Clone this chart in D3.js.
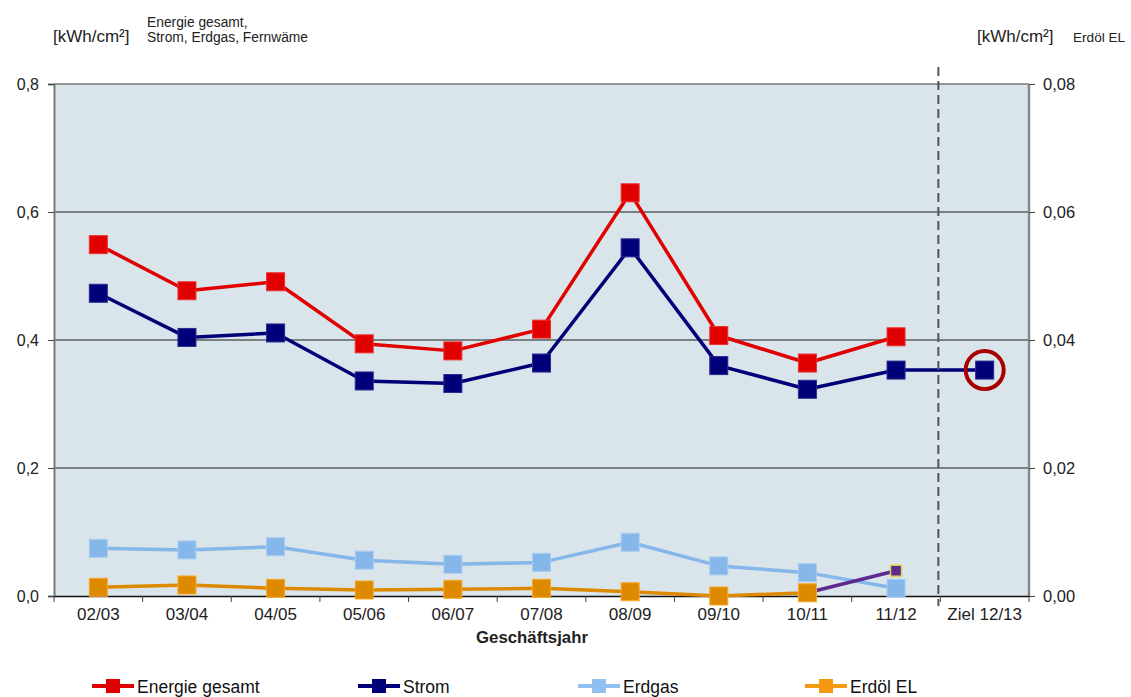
<!DOCTYPE html>
<html><head><meta charset="utf-8">
<script src="https://cdn.jsdelivr.net/npm/d3@7"></script>
<style>
html,body{margin:0;padding:0;background:#fff;}
svg{display:block;font-family:"Liberation Sans",Arial,sans-serif;}
</style></head>
<body><svg id="c" width="1131" height="697"></svg>
<script>
const categories = ["02/03","03/04","04/05","05/06","06/07","07/08","08/09","09/10","10/11","11/12","Ziel 12/13"];
const energieGesamt = [0.549,0.477,0.491,0.394,0.383,0.417,0.630,0.407,0.364,0.405,null];
const strom = [0.473,0.404,0.411,0.336,0.332,0.364,0.544,0.360,0.323,0.353,0.353];
const erdgas = [0.0745,0.072,0.077,0.056,0.0495,0.0525,0.084,0.047,0.0365,0.012,null];
const erdoelEL = [0.00136,0.00172,0.0012,0.00094,0.00105,0.0012,0.00067,0.0,0.0005,null,null];
const fernwaerme = [null,null,null,null,null,null,null,null,0.005,0.0395,null];
const leftTicks = [0,0.2,0.4,0.6,0.8];
const rightTicks = [0,0.02,0.04,0.06,0.08];

const svg = d3.select("#c");
const L = 54, R = 1029, T = 84, B = 596;
const x = d3.scaleBand().domain(categories).range([L,R]).padding(0);
const yL = d3.scaleLinear().domain([0,0.8]).range([B,T]);
const yR = d3.scaleLinear().domain([0,0.08]).range([B,T]);
const fmtL = v => d3.format(".1f")(v).replace(".",",");
const fmtR = v => d3.format(".2f")(v).replace(".",",");

// plot background
svg.append("rect").attr("x",L).attr("y",T).attr("width",R-L).attr("height",B-T).attr("fill","#dae4eb");
// gridlines
svg.append("g").selectAll("line").data(leftTicks.filter(d=>d>0 && d<0.8)).join("line")
  .attr("x1",L).attr("x2",R).attr("y1",d=>yL(d)).attr("y2",d=>yL(d))
  .attr("stroke","#1a1a1a").attr("stroke-width",1);
svg.append("line").attr("x1",L).attr("x2",R).attr("y1",T).attr("y2",T).attr("stroke","#777").attr("stroke-width",1.5);
svg.append("line").attr("x1",R).attr("x2",R).attr("y1",T).attr("y2",B).attr("stroke","#888").attr("stroke-width",2.5);

// left axis
const gL = svg.append("g").attr("transform",`translate(${L},0)`)
  .call(d3.axisLeft(yL).tickValues(leftTicks).tickFormat(fmtL).tickSizeOuter(0).tickSize(6).tickPadding(9));
gL.select(".domain").attr("stroke","#777").attr("stroke-width",2);
gL.selectAll(".tick line").attr("stroke","#444");
gL.selectAll("text").attr("font-size",16).attr("fill","#222").attr("font-family","Liberation Sans, Arial");
// right axis
const gR = svg.append("g").attr("transform",`translate(${R},0)`)
  .call(d3.axisRight(yR).tickValues(rightTicks).tickFormat(fmtR).tickSizeOuter(0).tickSize(6).tickPadding(8));
gR.select(".domain").remove();
gR.selectAll(".tick line").attr("stroke","#444");
gR.selectAll("text").attr("font-size",16.5).attr("fill","#222").attr("font-family","Liberation Sans, Arial");
// bottom axis
const gB = svg.append("g").attr("transform",`translate(0,${B})`)
  .call(d3.axisBottom(x).tickSize(0).tickPadding(12));
gB.select(".domain").attr("stroke","#111").attr("stroke-width",1.5);
gB.selectAll("text").attr("font-size",17).attr("fill","#222").attr("font-family","Liberation Sans, Arial");
const bounds = categories.map(c=>x(c)).concat([x(categories[categories.length-1])+x.bandwidth()]);
svg.append("g").selectAll("line").data(bounds).join("line")
  .attr("x1",d=>d).attr("x2",d=>d).attr("y1",B).attr("y2",B+6).attr("stroke","#444").attr("stroke-width",1);
svg.append("text").attr("x",532).attr("y",643).attr("text-anchor","middle").attr("font-size",16.8)
  .attr("font-weight","bold").attr("fill","#222").text("Geschäftsjahr");

// series
function drawSeries(vals, y, color, w, markerFill, markerStroke, size, showMarkers, sw){
  const pts = vals.map((v,i)=>({v,c:categories[i]})).filter(d=>d.v!==null);
  const line = d3.line().x(d=>x(d.c)+x.bandwidth()/2).y(d=>y(d.v));
  svg.append("path").datum(pts).attr("d",line).attr("fill","none").attr("stroke",color).attr("stroke-width",w)
    .attr("stroke-linejoin","round");
  svg.append("g").selectAll("rect").data(pts.filter(showMarkers)).join("rect")
    .attr("x",d=>x(d.c)+x.bandwidth()/2-size/2).attr("y",d=>y(d.v)-size/2)
    .attr("width",size).attr("height",size).attr("fill",markerFill)
    .attr("stroke",markerStroke).attr("stroke-width",sw||1);
}
drawSeries(erdgas, yL, "#86b7ea", 3.5, "#86b7ea", "#a8ccf2", 18, ()=>true);
drawSeries(fernwaerme, yL, "#5e2a90", 3.5, "#5e2a90", "#d8d450", 11, d=>d.c==="11/12", 1.5);
drawSeries(erdoelEL, yR, "#de8a00", 3.5, "#de8a00", "#f8a826", 18, ()=>true);
drawSeries(strom, yL, "#000078", 3.5, "#000078", "#2a2a90", 18, ()=>true);
drawSeries(energieGesamt, yL, "#e00000", 3.5, "#e00000", "#ee3030", 18, ()=>true);

// target circle
const zc = categories[categories.length-1];
svg.append("circle").attr("cx",x(zc)+x.bandwidth()/2).attr("cy",yL(strom[strom.length-1]))
  .attr("r",19).attr("fill","none").attr("stroke","#a80000").attr("stroke-width",4);

// dashed divider
svg.append("line").attr("x1",x(zc)-2).attr("x2",x(zc)-2).attr("y1",67).attr("y2",606)
  .attr("stroke","#555").attr("stroke-width",2).attr("stroke-dasharray","9,5");

// axis titles
svg.append("text").attr("x",53).attr("y",42).attr("font-size",17).attr("fill","#222").text("[kWh/cm²]");
svg.append("text").attr("x",147).attr("y",27).attr("font-size",13.8).attr("fill","#222").text("Energie gesamt,");
svg.append("text").attr("x",147).attr("y",42).attr("font-size",13.8).attr("fill","#222").text("Strom, Erdgas, Fernwäme");
svg.append("text").attr("x",977).attr("y",42).attr("font-size",17).attr("fill","#222").text("[kWh/cm²]");
svg.append("text").attr("x",1073).attr("y",42).attr("font-size",13.6).attr("fill","#222").text("Erdöl EL");

// legend
const legendNames = ["Energie gesamt","Strom","Erdgas","Erdöl EL"];
const legendColors = ["#e00000","#000078","#90c0f0","#f59a10"];
const legendX = [92,358,578,805];
const lg = svg.append("g").selectAll("g").data(legendNames).join("g")
  .attr("transform",(d,i)=>`translate(${legendX[i]},686)`);
lg.append("line").attr("x1",0).attr("x2",42).attr("y1",0).attr("y2",0)
  .attr("stroke",(d,i)=>legendColors[i]).attr("stroke-width",4);
lg.append("rect").attr("x",14).attr("y",-7).attr("width",14).attr("height",14).attr("fill",(d,i)=>legendColors[i]);
lg.append("text").attr("x",45).attr("y",7).attr("font-size",17.5).attr("fill","#111").text(d=>d);
</script>
</body></html>
